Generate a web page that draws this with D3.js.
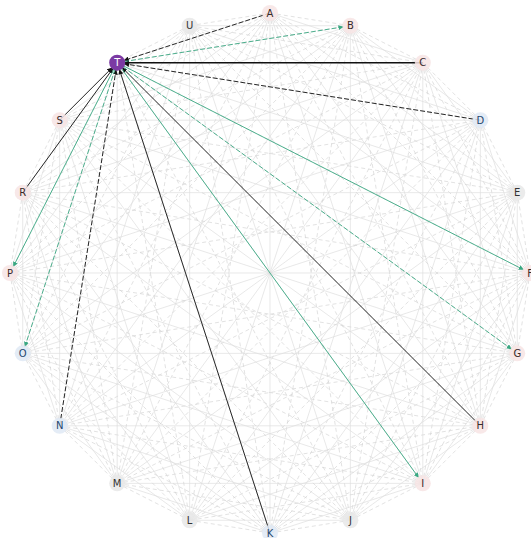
<!DOCTYPE html>
<html><head><meta charset="utf-8">
<script src="https://cdn.jsdelivr.net/npm/d3@7"></script>
<style>html,body{margin:0;padding:0;background:#fff;}svg{display:block;}</style>
</head><body>
<svg id="chart" width="531" height="538"></svg>
<script>
// nodes in clockwise order starting from top
const nodes = ["A","B","C","D","E","F","G","H","I","J","K","L","M","N","O","P","R","S","T","U"];
const nodeGroup = ["pink","pink","pink","blue","gray","pink","pink","pink","pink","gray","blue","gray","gray","blue","blue","pink","pink","pink","focus","gray"];
const focusNode = "T";
// edges pointing into T (black)
const inSources = ["A","C","D","H","K","N","R","S"];
const inDashed  = [true,false,true,false,false,true,false,false];
// edges leaving T (green)
const outTargets = ["B","F","G","I","O","P"];
const outDashed  = [true,false,true,false,true,false];

const svg = d3.select("#chart");
const cx = 270, cy = 273, R = 260, nodeR = 8;
const angle = d3.scaleBand().domain(nodes).range([0, 2*Math.PI]).paddingInner(0).paddingOuter(0);
const pos = n => { const a = angle(n) - Math.PI/2; return [cx + R*Math.cos(a), cy + R*Math.sin(a)]; };

const defs = svg.append("defs");
function marker(id, color){
  defs.append("marker").attr("id", id).attr("viewBox","0 0 10 10").attr("refX",10).attr("refY",5)
    .attr("markerWidth",5).attr("markerHeight",5).attr("markerUnits","userSpaceOnUse").attr("orient","auto")
    .append("path").attr("d","M0,0L10,5L0,10z").attr("fill", color);
}
marker("arrGreen","#3aa882");
marker("arrBlack","#111");

// background complete graph
const bg = svg.append("g");
const pairs = [];
nodes.forEach((a,i)=>nodes.forEach((b,j)=>{ if(j>i) pairs.push([a,b,i,j]); }));
bg.selectAll("line").data(pairs).join("line")
  .attr("x1", d=>pos(d[0])[0]).attr("y1", d=>pos(d[0])[1])
  .attr("x2", d=>pos(d[1])[0]).attr("y2", d=>pos(d[1])[1])
  .attr("stroke", d => ((d[2]+d[3])%2===0) ? "#dedede" : "#d6d6d6")
  .attr("stroke-width", 0.7)
  .attr("stroke-dasharray", d => ((d[2]+d[3])%2===0) ? null : "4,3");

function shorten(p1, p2, r){
  const dx = p2[0]-p1[0], dy = p2[1]-p1[1], L = Math.hypot(dx,dy);
  return [p2[0]-dx/L*r, p2[1]-dy/L*r];
}
const fp = pos(focusNode);
const fg = svg.append("g");
// incoming black edges
fg.selectAll("line.in").data(inSources.map((s,i)=>({s, dashed: inDashed[i]}))).join("line")
  .attr("class","in")
  .attr("x1", d=>pos(d.s)[0]).attr("y1", d=>pos(d.s)[1])
  .attr("x2", d=>shorten(pos(d.s), fp, nodeR-1)[0]).attr("y2", d=>shorten(pos(d.s), fp, nodeR-1)[1])
  .attr("stroke","#111").attr("stroke-width", d=> d.s==="C" ? 1.5 : 0.9)
  .attr("stroke-dasharray", d=>d.dashed ? "5,2" : null)
  .attr("marker-end","url(#arrBlack)");
// outgoing green edges
fg.selectAll("line.out").data(outTargets.map((t,i)=>({t, dashed: outDashed[i]}))).join("line")
  .attr("class","out")
  .attr("x1", fp[0]).attr("y1", fp[1])
  .attr("x2", d=>shorten(fp, pos(d.t), nodeR-1)[0]).attr("y2", d=>shorten(fp, pos(d.t), nodeR-1)[1])
  .attr("stroke","#3aa882").attr("stroke-width",0.9)
  .attr("stroke-dasharray", d=>d.dashed ? "5,2" : null)
  .attr("marker-end","url(#arrGreen)");

const fill = {pink:"#f7e4e4", blue:"#dfe9f4", gray:"#e8e8e8", focus:"#7b3aa3"};
const txt = {pink:"#3a2a2a", blue:"#24476f", gray:"#333", focus:"#fff"};
const ng = svg.append("g").selectAll("g").data(nodes.map((n,i)=>({n, g: nodeGroup[i]}))).join("g")
  .attr("transform", d=>`translate(${pos(d.n)[0]},${pos(d.n)[1]})`);
ng.append("circle").attr("r", nodeR).attr("fill", d=>fill[d.g]).attr("opacity", d=>d.g==="focus"?1:0.85);
ng.append("text").text(d=>d.n).attr("text-anchor","middle").attr("dy","0.36em")
  .attr("font-family","DejaVu Sans, sans-serif").attr("font-size",10)
  .attr("fill", d=>txt[d.g]);
</script>
</body></html>
